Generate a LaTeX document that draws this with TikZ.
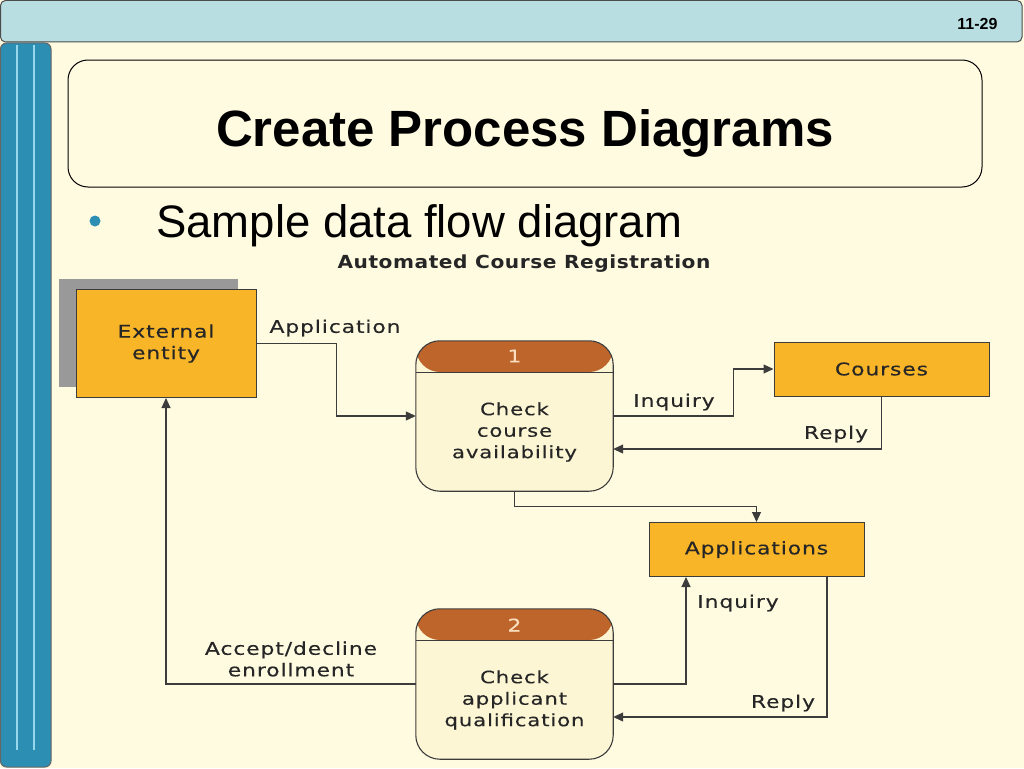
\documentclass[tikz,border=0pt]{standalone}
\usepackage{fontspec}
\setmainfont{Liberation Sans}
\newfontfamily\dfdfont[FakeStretch=1.25,LetterSpace=5,FakeBold=0.3]{DejaVu Sans}
\newfontfamily\dfdtitlefont[FakeStretch=1.12,LetterSpace=3]{DejaVu Sans}
\usetikzlibrary{arrows.meta,calc}

\definecolor{slidebg}{RGB}{255,251,225}
\definecolor{topbar}{RGB}{185,222,226}
\definecolor{sidebar}{RGB}{43,142,178}
\definecolor{sideline}{RGB}{150,215,238}
\definecolor{dfdorange}{RGB}{248,181,40}
\definecolor{procband}{RGB}{189,101,42}
\definecolor{procfill}{RGB}{252,246,212}
\definecolor{numtext}{RGB}{250,222,190}
\definecolor{linegray}{RGB}{60,60,60}

\tikzset{
	store/.style={draw=linegray, line width=1pt, fill=dfdorange, minimum width=215pt, minimum height=54pt, align=center, text=black!85, font=\dfdfont\fontsize{17.5}{21.5}\selectfont},
	process/.style={fill=procfill, rounded corners=24pt, minimum width=197pt, minimum height=150pt,
		path picture={\fill[procband] (path picture bounding box.north west) rectangle ([yshift=-31pt]path picture bounding box.north east);
			\draw[line width=0.8pt, linegray] ([yshift=-31pt]path picture bounding box.north west) -- ([yshift=-31pt]path picture bounding box.north east);}},
	procedge/.style={draw=linegray, line width=1.1pt, rounded corners=24pt},
	procnum/.style={text=numtext, font=\dfdfont\fontsize{17.5}{20}\selectfont},
	proctext/.style={align=center, text=black!85, font=\dfdfont\fontsize{17}{21.5}\selectfont},
	flow/.style={draw=linegray, line width=1.1pt, -{Triangle[length=10pt,width=9pt]}},
	flowlabel/.style={align=center, text=black!85, font=\dfdfont\fontsize{17.5}{21.5}\selectfont}
}

\begin{document}
\begin{tikzpicture}[x=1pt, y=-1pt]
			%%%%% START %%%%%
			
			\useasboundingbox (0, 0) rectangle (1024, 768);
			\fill[slidebg] (0, 0) rectangle (1024, 768);
			
			% slide frame
			\draw[fill=topbar, draw=black!70, line width=1pt, rounded corners=5pt] (0.5, 0.5) rectangle (1022, 42);
			\draw[fill=sidebar, draw=black!60, line width=1pt, rounded corners=6pt] (0.5, 43) rectangle (51, 767);
			\draw[sideline, line width=1.5pt] (17, 45) -- (17, 750);
			\draw[sideline, line width=1.5pt] (34, 45) -- (34, 750);
			\node[anchor=base east, font=\bfseries\fontsize{16}{18}\selectfont] (pagenum) at (1001, 30) {11-29};
			
			% title
			\draw[line width=1pt, rounded corners=20pt] (68, 60) rectangle (982, 187);
			\node[anchor=base, font=\bfseries\fontsize{51}{60}\selectfont] (title) at (525, 146) {Create Process Diagrams};
			\fill[sidebar] (95, 221) circle (5.5);
			\node[anchor=base west, inner sep=0pt, font=\fontsize{45.5}{54}\selectfont] (bullet) at (156, 237) {Sample data flow diagram};
			
			% diagram
			\node[anchor=base, text=black!85, font=\dfdtitlefont\bfseries\fontsize{18}{20}\selectfont] (dfdtitle) at (524, 268) {Automated Course Registration};
			
			\fill[black!40] (59, 279) rectangle (238, 387);
			\node[store, minimum width=180pt, minimum height=108pt] (ext) at (166, 343.5) {External\\entity};
			
			\node[process] (p1) at (514.5, 416) {};
			\draw[procedge] (p1.north west) rectangle (p1.south east);
			\node[procnum] (p1num) at (514.5, 356) {1};
			\node[proctext] (p1text) at (514.5, 432) {Check\\course\\availability};
			
			\node[store] (courses) at (881.5, 369) {Courses};
			\node[store] (apps) at (756.5, 549.5) {Applications};
			
			\node[process] (p2) at (514.5, 684) {};
			\draw[procedge] (p2.north west) rectangle (p2.south east);
			\node[procnum] (p2num) at (514.5, 625) {2};
			\node[proctext] (p2text) at (514.5, 700) {Check\\applicant\\qualification};
			
			\draw[flow] (ext.east) -- ++(80, 0) |- (p1.west);
			\draw[flow] (p1.east) -- ++(120, 0) |- (courses.west);
			\draw[flow] (courses.south) |- ([yshift=-33pt]p1.east);
			\draw[flow] (p1.south) -- ++(0, 15) -| (apps.north);
			\draw[flow] (p2.east) -| ([xshift=-70.5pt]apps.south);
			\draw[flow] ([xshift=70.5pt]apps.south) |- ([yshift=-33pt]p2.east);
			\draw[flow] (p2.west) -| (ext.south);
			
			\node[flowlabel] (lapplication) at (335, 328) {Application};
			\node[flowlabel] (linquiry1) at (674, 402) {Inquiry};
			\node[flowlabel] (lreply1) at (836, 434) {Reply};
			\node[flowlabel] (linquiry2) at (738, 603) {Inquiry};
			\node[flowlabel] (lreply2) at (783, 703) {Reply};
			\node[flowlabel] (laccept) at (291, 659) {Accept/decline\\enrollment};
			
			%%%%% END %%%%%
\end{tikzpicture}
\end{document}
